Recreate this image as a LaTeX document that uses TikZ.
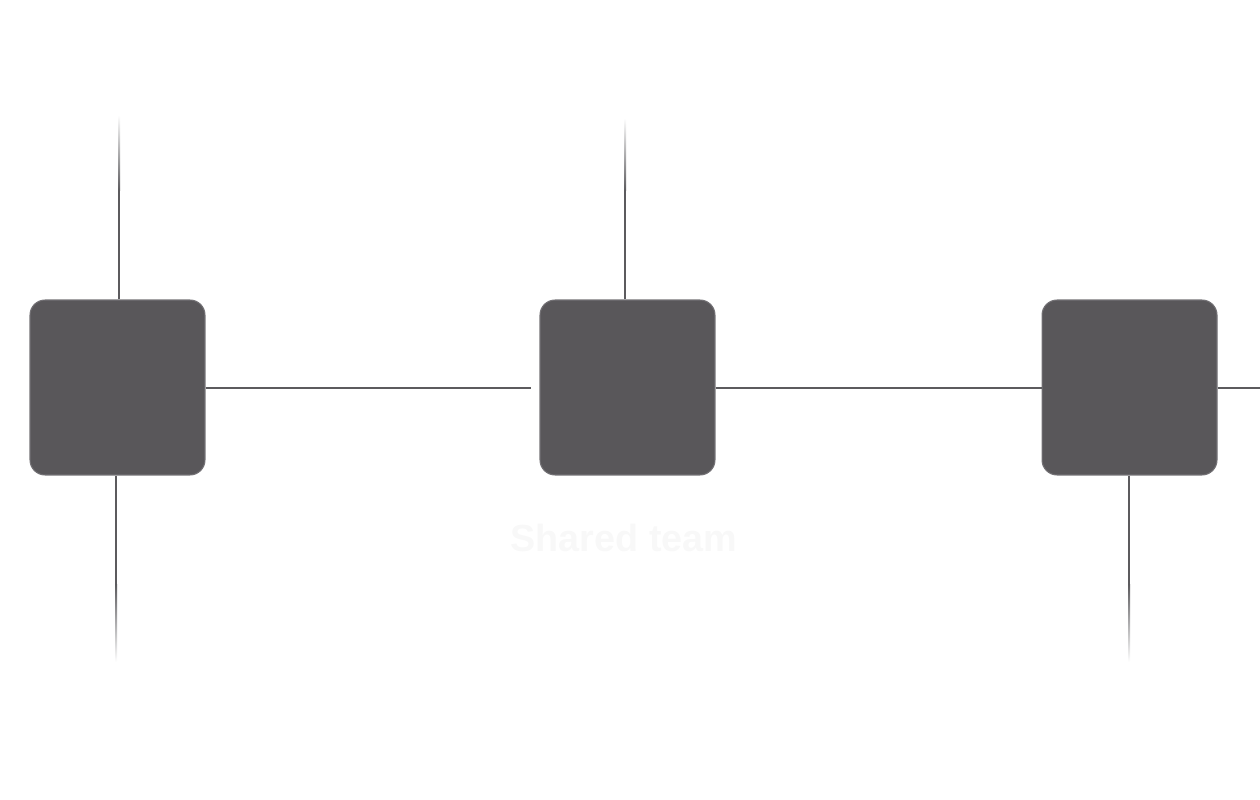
\documentclass[tikz,border=0pt]{standalone}
\usepackage{fontspec}
\setmainfont{Liberation Sans}
\definecolor{boxfill}{HTML}{59575A}
\definecolor{boxedge}{HTML}{737175}
\definecolor{linegray}{HTML}{5C5B5E}
\definecolor{ghost}{HTML}{F8F8F8}
\begin{document}
\begin{tikzpicture}[x=0.02cm,y=-0.02cm,
  box/.style={draw=boxedge, line width=0.6pt, fill=boxfill, rounded corners=0.3cm,
    minimum width=3.5cm, minimum height=3.5cm, inner sep=0pt},
  conn/.style={draw=linegray, line width=1.1pt},
  fadeup/.style={top color=white, bottom color=linegray},
  fadedown/.style={top color=linegray, bottom color=white}]
\useasboundingbox (0,0) rectangle (1260,800);
% boxes
\node[box] (b1) at (117.5,387.5) {};
\node[box] (b2) at (627.5,387.5) {};
\node[box] (b3) at (1129.5,387.5) {};
% coordinates for free ends
\coordinate (h1) at (531,388);
\coordinate (hend) at (1260,388);
\coordinate (t1) at (119,190);
\coordinate (t2) at (625,190);
\coordinate (d1) at (116,585);
\coordinate (d3) at (1129,585);
% horizontal connectors
\draw[conn] (b1.east |- h1) -- (h1);
\draw[conn] (b2.east |- h1) -- (b3.west |- h1);
\draw[conn] (b3.east |- hend) -- (hend);
% vertical connectors (solid parts)
\draw[conn] (b1.north -| t1) -- (t1);
\draw[conn] (b2.north -| t2) -- (t2);
\draw[conn] (b1.south -| d1) -- (d1);
\draw[conn] (b3.south -| d3) -- (d3);
% faded ends
\shade[fadeup] (118,115) rectangle (120,190.5);
\shade[fadeup] (624,118) rectangle (626,190.5);
\shade[fadedown] (115,584.5) rectangle (117,662);
\shade[fadedown] (1128,584.5) rectangle (1130,662);
% label
\node[text=ghost, font=\fontsize{21.5}{26}\selectfont\bfseries] (lbl) at (624,538) {Shared team};
\end{tikzpicture}
\end{document}
